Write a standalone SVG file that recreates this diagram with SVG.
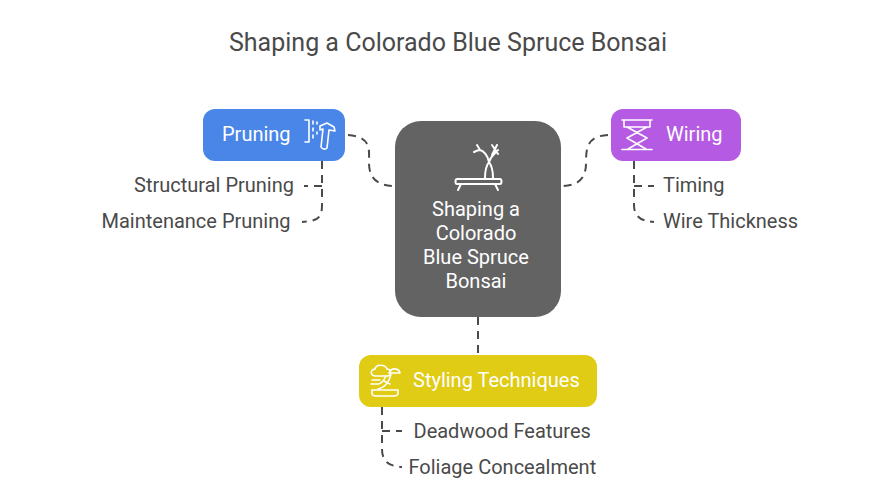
<svg xmlns="http://www.w3.org/2000/svg" width="896" height="504" viewBox="0 0 896 504">
<style>
text{font-family:Roboto,"Liberation Sans",sans-serif}
.t{font-size:25px;fill:#4a4a4a}
.l{font-size:20px;fill:#4a4a4a}
.w{font-size:20px;fill:#fff}
.c{font-size:20px;fill:#fff;text-anchor:middle}
.d{fill:none;stroke:#4a4a4a;stroke-width:2;stroke-dasharray:8 6}
.i{fill:none;stroke:#fff;stroke-width:2;stroke-linecap:round;stroke-linejoin:round}
.n{fill:none;stroke:#fff;stroke-width:1.6;stroke-linecap:round;stroke-linejoin:round}
</style>
<rect width="896" height="504" fill="#fff"/>
<text class="t" x="448" y="51" text-anchor="middle">Shaping a Colorado Blue Spruce Bonsai</text>
<g id="connectors">
<path class="d" d="M348 135C372 137 369 150 369 163C369 176 375 186 395 186"/>
<path class="d" d="M322 161V205C322 218 318 221 302 222"/>
<path class="d" d="M322 186H304"/>
<path class="d" d="M608 135C587 136 586 148 586 163C586 176 581 186 561 186"/>
<path class="d" d="M634 161V205C634 216 640 221 654 222"/>
<path class="d" d="M634 186H654"/>
<path class="d" d="M478 317V355"/>
<path class="d" d="M382 407V449C382 461 388 466 402 467"/>
<path class="d" d="M382 431H402"/>
</g>
<g id="center">
<rect x="395" y="121" width="166" height="196" rx="26" fill="#636363"/>
<path class="i" d="M457 179H500C502 179 502 184 500 184H457C455 184 455 179 457 179Z"/>
<path class="i" d="M461 184L458 190M495 184L498 190"/>
<path class="i" d="M485 178C485 170 486 166 489 162C492 166 493 170 493 178M489 162C488 156 484 151 480 150C478 150 476 151 474 152M480 150L477 145M489 162C491 156 494 154 498 150M492 155L497 145M492 145L498 154"/>
<text class="c" x="476" y="216">Shaping a</text>
<text class="c" x="476" y="240">Colorado</text>
<text class="c" x="476" y="264">Blue Spruce</text>
<text class="c" x="476" y="288">Bonsai</text>
</g>
<g id="pruning">
<rect x="203" y="109" width="142" height="52" rx="12" fill="#4a86e8"/>
<text class="w" x="222" y="141">Pruning</text>
<path class="n" d="M305 120H309V142H305M313 121V124M313 128V131M313 135V138M317 122V124M317 132V134"/>
<path class="n" d="M320 126L327 123L334 127L335 131L329 130L327 148C325 150 322 149 321 147L323 129L320 130Z"/>
</g>
<g id="structural"><text class="l" x="294" y="192" text-anchor="end">Structural Pruning</text></g>
<g id="maintenance"><text class="l" x="290.500" y="228" text-anchor="end">Maintenance Pruning</text></g>
<g id="wiring">
<rect x="611" y="109" width="130" height="52" rx="12" fill="#b55ae3"/>
<text class="w" x="666" y="141">Wiring</text>
<path class="n" d="M622 120H652M624 120V127H650V120M627 127L647 138L628 149M647 127L627 138L646 149M622 149.500H652"/>
</g>
<g id="timing"><text class="l" x="663" y="192">Timing</text></g>
<g id="wire-thickness"><text class="l" x="663" y="228">Wire Thickness</text></g>
<g id="styling">
<rect x="359" y="355" width="238" height="52" rx="12" fill="#e0cb15"/>
<text class="w" x="413" y="387">Styling Techniques</text>
<path class="n" d="M375 376C370 375 370 370 375 369C376 364 385 364 387 369C391 369 392 375 388 376Z"/>
<path class="n" d="M372 380H380M371 384H378C381 384 384 380 386 376M378 389C383 388 387 384 389 380L391 375M390 373H400C399 368 391 367 389 373M384 381L390 384"/>
<path class="n" d="M372 390H398V393C398 395 396 396 394 396H376C374 396 372 395 372 393Z"/>
</g>
<g id="deadwood"><text class="l" x="413.500" y="438">Deadwood Features</text></g>
<g id="foliage"><text class="l" x="408.500" y="474">Foliage Concealment</text></g>
</svg>
